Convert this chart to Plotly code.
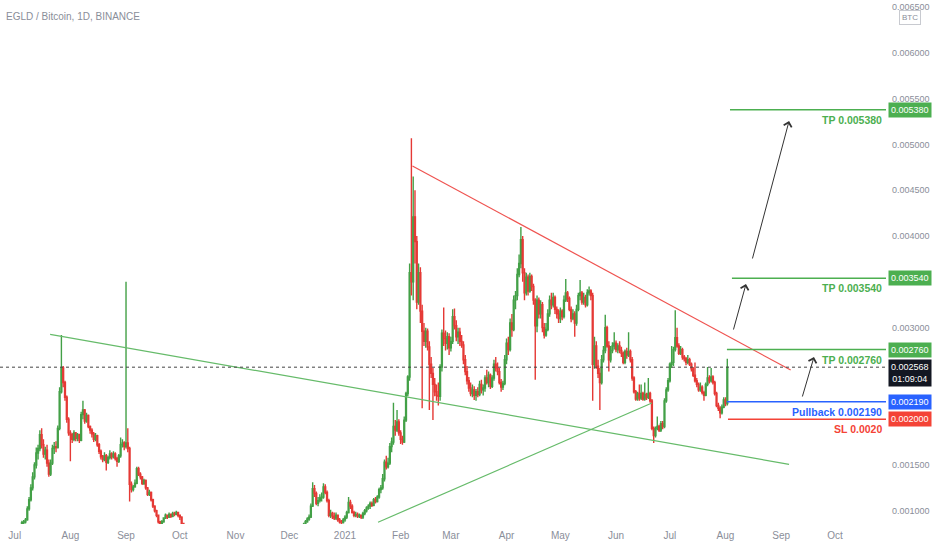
import pandas as pd
import plotly.graph_objects as go

# EGLD/BTC daily candles, values in 1e-6 BTC
# segment 1: 2020-07-05 .. 2020-10-03
start_1 = "2020-07-05"
open_1 = [860, 870, 880, 900, 1020, 1120, 1250, 1370, 1500, 1630, 1680, 1830, 1720, 1620, 1660, 1520, 1400, 1520, 1680, 1700, 1690, 1900, 2300, 2560, 2400, 2240, 2000,
          1850, 1830, 1780, 1850, 1790, 1830, 1770, 2050, 2100, 1980, 2040, 1920, 1880, 1840, 1780, 1820, 1720, 1650, 1590, 1560, 1600, 1530, 1580, 1620, 1590, 1620, 1570, 1540, 1600, 1720, 1740,
          1700, 1740, 1680, 1290, 1230, 1260, 1300, 1460, 1400, 1370, 1300, 1330, 1250, 1180, 1200, 1120, 1050, 1000, 950, 880, 850, 880, 920, 950, 930, 960, 940, 970, 960, 980,
          950, 930, 860]
high_1 = [890, 900, 920, 1050, 1150, 1290, 1420, 1530, 1690, 1720, 1880, 1900, 1780, 1700, 1720, 1560, 1560, 1720, 1750, 1760, 1930, 2350, 2920, 2580, 2420, 2260, 2020,
          1880, 1850, 1880, 1860, 1850, 1840, 2080, 2200, 2110, 2070, 2050, 1930, 1900, 1860, 1850, 1830, 1740, 1670, 1610, 1640, 1620, 1600, 1660, 1640, 1650, 1640, 1590, 1620, 1800, 1780, 1760,
          3500, 1900, 1700, 1320, 1280, 1340, 1480, 1480, 1420, 1380, 1350, 1340, 1260, 1230, 1210, 1130, 1060, 1010, 960, 890, 900, 930, 970, 960, 980, 970, 990, 990, 1000, 990,
          960, 940, 870]
low_1 = [840, 850, 860, 890, 1000, 1100, 1220, 1340, 1460, 1560, 1650, 1680, 1580, 1560, 1480, 1370, 1380, 1500, 1620, 1640, 1680, 1880, 2280, 2350, 2200, 1960, 1820,
         1540, 1740, 1760, 1760, 1760, 1740, 1760, 2000, 1950, 1960, 1900, 1840, 1800, 1750, 1760, 1700, 1620, 1560, 1530, 1540, 1440, 1510, 1560, 1560, 1570, 1550, 1480, 1520, 1580, 1690, 1660,
         1680, 1640, 1100, 1200, 1210, 1250, 1290, 1380, 1340, 1280, 1280, 1230, 1160, 1160, 1100, 1030, 980, 930, 860, 830, 840, 870, 910, 910, 920, 920, 930, 940, 950, 930,
         900, 840, 800]
close_1 = [870, 880, 900, 1020, 1120, 1250, 1370, 1500, 1630, 1680, 1830, 1720, 1620, 1660, 1520, 1400, 1520, 1680, 1700, 1690, 1900, 2300, 2560, 2400, 2240, 2000, 1850,
           1830, 1780, 1850, 1790, 1830, 1770, 2050, 2100, 1980, 2040, 1920, 1880, 1840, 1780, 1820, 1720, 1650, 1590, 1560, 1600, 1530, 1580, 1620, 1590, 1620, 1570, 1540, 1600, 1720, 1740, 1700,
           1740, 1680, 1290, 1230, 1260, 1300, 1460, 1400, 1370, 1300, 1330, 1250, 1180, 1200, 1120, 1050, 1000, 950, 880, 850, 880, 920, 950, 930, 960, 940, 970, 960, 980, 950,
           930, 860, 830]

# segment 2: 2020-12-09 .. 2021-08-02
start_2 = "2020-12-09"
open_2 = [840, 850, 880, 910, 930, 1050, 1240, 1190, 1080, 1110, 1140, 1150, 1260, 1200, 1110, 950, 970, 940, 920, 950, 900, 880, 870,
          900, 930, 980, 1090, 1050, 980, 950, 960, 940, 950, 930, 970, 1000, 1030, 1050, 1080, 1060, 1120, 1100, 1150, 1230, 1250, 1350, 1530, 1480, 1520, 1700, 1750, 1920, 1880, 1970,
          1850, 1780, 1750, 1990, 2280, 2460, 3600, 3500, 4210, 3940, 3280, 3600, 3180, 2960, 2850, 2960, 2790, 2600, 2500, 2380, 2300, 2260, 2250, 2570, 2940, 2880, 2830, 2900,
          2780, 2850, 3120, 3020, 2900, 2950, 2850, 2810, 2650, 2520, 2420, 2340, 2280, 2320, 2260, 2300, 2270, 2380, 2320, 2340, 2450, 2400, 2480, 2360, 2450, 2600, 2560, 2520, 2400, 2350, 2390,
          2650, 2830, 2760, 3050, 2980, 3300, 3350, 3580, 3700, 3960, 3600, 3380, 3550, 3400, 3560, 3450, 3300, 3020, 3300, 3150, 3250, 3000, 2920, 2980, 3150, 3300, 3250, 3330, 3200, 3150,
          3100, 3180, 3120, 3300, 3380, 3320, 3200, 3100, 3150, 3050, 3200, 3350, 3380, 3280, 3330, 3250, 3380, 3400, 3350, 2600, 2800, 2580, 2500, 2400, 2650, 2750, 3000, 2800, 2650, 2750, 2800,
          2830, 2760, 2800, 2750, 2720, 2620, 2740, 2700, 2740, 2650, 2450, 2300, 2220, 2280, 2230, 2280, 2220, 2270, 2240, 2280, 2200, 1900, 1820, 1900, 1920, 1880, 1950, 1920, 2200, 2320,
          2420, 2600, 2620, 2760, 2890, 2800, 2720, 2760, 2680, 2660, 2620, 2650, 2600, 2550, 2480, 2420, 2380, 2320, 2350, 2290, 2260, 2380, 2450, 2420, 2460, 2400, 2280, 2150, 2120, 2070, 2130,
          2210, 2170]
high_2 = [870, 900, 930, 960, 1080, 1310, 1280, 1210, 1150, 1180, 1200, 1300, 1290, 1220, 1130, 1010, 990, 980, 980, 960, 920, 900, 920,
          950, 1000, 1150, 1120, 1070, 1000, 990, 980, 970, 960, 990, 1020, 1050, 1070, 1100, 1100, 1140, 1150, 1170, 1250, 1280, 1400, 1560, 1600, 1580, 1740, 1800, 2180, 1990, 2100, 2000,
          1880, 1820, 2030, 2300, 2480, 3700, 5070, 4650, 4500, 4000, 3700, 3660, 3250, 3050, 3000, 2990, 2850, 2680, 2560, 2450, 2380, 2400, 2600, 2980, 3220, 2970, 2950, 2940,
          2900, 3200, 3210, 3080, 3000, 3000, 2920, 2850, 2700, 2580, 2460, 2400, 2380, 2360, 2330, 2350, 2420, 2430, 2380, 2480, 2540, 2520, 2500, 2480, 2650, 2680, 2620, 2560, 2440, 2420, 2700,
          2880, 2900, 3100, 3150, 3350, 3400, 3650, 3800, 4100, 4000, 3650, 3600, 3580, 3600, 3580, 3480, 3320, 3350, 3330, 3300, 3280, 3050, 3050, 3200, 3350, 3380, 3380, 3350, 3230, 3200,
          3220, 3200, 3350, 3530, 3400, 3340, 3230, 3200, 3180, 3250, 3380, 3520, 3400, 3380, 3360, 3420, 3450, 3420, 3380, 2900, 2850, 2650, 2560, 2700, 2800, 3140, 3020, 2850, 2800, 2840, 2950,
          2860, 2830, 2850, 2790, 2740, 2760, 2780, 2950, 2760, 2680, 2470, 2320, 2300, 2380, 2380, 2300, 2400, 2290, 2450, 2300, 2220, 1920, 1920, 2030, 1940, 1980, 1980, 2230, 2350, 2450,
          2620, 2800, 2790, 3190, 3000, 2830, 2800, 2780, 2700, 2680, 2700, 2670, 2620, 2570, 2620, 2450, 2400, 2400, 2370, 2310, 2400, 2570, 2480, 2560, 2480, 2420, 2300, 2180, 2140, 2160, 2240,
          2240, 2660]
low_2 = [820, 840, 870, 890, 920, 1040, 1150, 1060, 1050, 1090, 1100, 1130, 1180, 1090, 930, 920, 910, 900, 900, 880, 860, 850, 860,
         880, 910, 970, 1020, 970, 930, 930, 920, 920, 910, 910, 950, 980, 1010, 1020, 1040, 1050, 1080, 1090, 1130, 1190, 1230, 1320, 1450, 1460, 1500, 1640, 1720, 1820, 1860, 1820,
         1730, 1720, 1740, 1970, 2250, 2420, 3350, 3300, 3700, 3200, 3250, 3050, 2120, 2800, 2780, 2750, 2100, 2450, 1990, 2250, 2200, 2150, 2200, 2520, 2800, 2750, 2760, 2700,
         2740, 2820, 2980, 2850, 2820, 2800, 2780, 2600, 2480, 2380, 2300, 2250, 2240, 2210, 2200, 2240, 2250, 2280, 2260, 2300, 2380, 2350, 2330, 2340, 2420, 2520, 2480, 2380, 2300, 2320, 2370,
         2600, 2700, 2740, 2900, 2960, 3200, 3300, 3550, 3650, 3500, 3300, 3350, 3350, 3380, 3400, 3250, 2430, 2950, 3100, 3100, 2950, 2880, 2900, 2960, 3120, 3200, 3220, 3150, 3100, 3050,
         3050, 3080, 3100, 3280, 3280, 3180, 3060, 3080, 2900, 3020, 3180, 3300, 3250, 3250, 3220, 3230, 3350, 3300, 2200, 2550, 2550, 2450, 2100, 2380, 2620, 2720, 2780, 2520, 2620, 2720, 2760,
         2730, 2720, 2720, 2680, 2600, 2600, 2660, 2680, 2620, 2420, 2280, 2200, 2200, 2200, 2210, 2200, 2200, 2210, 2220, 2180, 1880, 1740, 1800, 1880, 1860, 1860, 1890, 1900, 2180, 2300,
         2400, 2560, 2580, 2740, 2780, 2700, 2700, 2650, 2630, 2590, 2600, 2580, 2520, 2460, 2400, 2350, 2300, 2300, 2270, 2200, 2250, 2360, 2390, 2400, 2380, 2260, 2130, 2090, 2010, 2050, 2120,
         2140, 2150]
close_2 = [850, 880, 910, 930, 1050, 1240, 1190, 1080, 1110, 1140, 1150, 1260, 1200, 1110, 950, 970, 940, 920, 950, 900, 880, 870, 900,
           930, 980, 1090, 1050, 980, 950, 960, 940, 950, 930, 970, 1000, 1030, 1050, 1080, 1060, 1120, 1100, 1150, 1230, 1250, 1350, 1530, 1480, 1520, 1700, 1750, 1920, 1880, 1970, 1850,
           1780, 1750, 1990, 2280, 2460, 3600, 3500, 4210, 3940, 3280, 3600, 3180, 2960, 2850, 2960, 2790, 2600, 2500, 2380, 2300, 2260, 2250, 2570, 2940, 2880, 2830, 2900, 2780,
           2850, 3120, 3020, 2900, 2950, 2850, 2810, 2650, 2520, 2420, 2340, 2280, 2320, 2260, 2300, 2270, 2380, 2320, 2340, 2450, 2400, 2480, 2360, 2450, 2600, 2560, 2520, 2400, 2350, 2390, 2650,
           2830, 2760, 3050, 2980, 3300, 3350, 3580, 3700, 3960, 3600, 3380, 3550, 3400, 3560, 3450, 3300, 3020, 3300, 3150, 3250, 3000, 2920, 2980, 3150, 3300, 3250, 3330, 3200, 3150, 3100,
           3180, 3120, 3300, 3380, 3320, 3200, 3100, 3150, 3050, 3200, 3350, 3380, 3280, 3330, 3250, 3380, 3400, 3350, 2600, 2800, 2580, 2500, 2400, 2650, 2750, 3000, 2800, 2650, 2750, 2800, 2830,
           2760, 2800, 2750, 2720, 2620, 2740, 2700, 2740, 2650, 2450, 2300, 2220, 2280, 2230, 2280, 2220, 2270, 2240, 2280, 2200, 1900, 1820, 1900, 1920, 1880, 1950, 1920, 2200, 2320, 2420,
           2600, 2620, 2760, 2890, 2800, 2720, 2760, 2680, 2660, 2620, 2650, 2600, 2550, 2480, 2420, 2380, 2320, 2350, 2290, 2260, 2380, 2450, 2420, 2460, 2400, 2280, 2150, 2120, 2070, 2130, 2210,
           2170, 2568]

last_price = 0.002568
countdown = "01:09:04"

# drawings: trend lines (date, price)
red_line = [("2021-02-07 14:00", 0.004766), ("2021-09-06 07:00", 0.002537)]
green_line_top = [("2020-07-20 17:00", 0.002927), ("2021-09-05 10:00", 0.001507)]
green_line_low = [("2021-01-19 10:00", 0.000874), ("2021-06-21 00:00", 0.002177)]

# horizontal levels
level_prices = [0.005380, 0.003540, 0.002760, 0.002190, 0.002000]
level_starts = ["2021-08-03 12:00", "2021-08-04 14:00", "2021-08-01 19:00", "2021-08-01 19:00", "2021-08-02 09:00"]
level_texts = ["TP 0.005380", "TP 0.003540", "TP 0.002760", "Pullback 0.002190", "SL 0.0020"]
level_tags = ["0.005380", "0.003540", "0.002760", "0.002190", "0.002000"]
level_colors = ["#4caf50", "#4caf50", "#4caf50", "#2962ff", "#f44336"]

# arrows: (tail, head)
arrows = [
    (("2021-09-12 14:00", 0.002231), ("2021-09-19 07:00", 0.002679)),
    (("2021-08-05 05:00", 0.002963), ("2021-08-12 10:00", 0.003476)),
    (("2021-08-15 19:00", 0.003739), ("2021-09-05 10:00", 0.005257)),
]

month_ticks = ["2020-07-01", "2020-08-01", "2020-09-01", "2020-10-01", "2020-11-01", "2020-12-01", "2021-01-01",
               "2021-02-01", "2021-03-01", "2021-04-01", "2021-05-01", "2021-06-01", "2021-07-01", "2021-08-01",
               "2021-09-01", "2021-10-01"]
month_labels = ["Jul", "Aug", "Sep", "Oct", "Nov", "Dec", "2021", "Feb", "Mar", "Apr", "May", "Jun", "Jul", "Aug", "Sep", "Oct"]
# 0.0020, 0.0025 and 0.0035 sit under the price tags, so they are not labelled
price_ticks = [0.0010, 0.0015, 0.0030, 0.0040, 0.0045, 0.0050, 0.0055, 0.0060, 0.0065]

FONT = "Liberation Sans, Arial, sans-serif"
GREEN = "#43a047"
RED = "#e53935"
GREY = "#8a8e99"

dates = list(pd.date_range(start_1, periods=len(close_1), freq="D")) + \
        list(pd.date_range(start_2, periods=len(close_2), freq="D"))
scale = 1e-6
opens = [v * scale for v in open_1 + open_2]
highs = [v * scale for v in high_1 + high_2]
lows = [v * scale for v in low_1 + low_2]
closes = [v * scale for v in close_1 + close_2]

fig = go.Figure()
fig.add_trace(go.Candlestick(
    x=dates, open=opens, high=highs, low=lows, close=closes,
    increasing=dict(line=dict(color=GREEN, width=1.4), fillcolor=GREEN),
    decreasing=dict(line=dict(color=RED, width=1.4), fillcolor=RED),
    whiskerwidth=0, showlegend=False, hoverinfo="skip",
))

shapes = []
for pts, col in [(red_line, "#ef5350"), (green_line_top, "#66bb6a"), (green_line_low, "#66bb6a")]:
    shapes.append(dict(type="line", xref="x", yref="y", x0=pts[0][0], y0=pts[0][1],
                       x1=pts[1][0], y1=pts[1][1], line=dict(color=col, width=1.2)))

x_end = "2021-10-29 10:00"
for p, s, c in zip(level_prices, level_starts, level_colors):
    shapes.append(dict(type="line", xref="x", yref="y", x0=s, x1=x_end, y0=p, y1=p,
                       line=dict(color=c, width=1.5)))

# last price dotted line
shapes.append(dict(type="line", xref="paper", yref="y", x0=0, x1=1, y0=last_price, y1=last_price,
                   line=dict(color="#444444", width=1, dash="dot")))

annotations = []
for p, t, tag, c in zip(level_prices, level_texts, level_tags, level_colors):
    annotations.append(dict(xref="paper", yref="y", x=0.998, y=p, xanchor="right", yanchor="top",
                            yshift=-2, text="<b>" + t + "</b>", showarrow=False,
                            font=dict(family=FONT, size=10.5, color=c)))
    annotations.append(dict(xref="paper", yref="y", x=1, y=p, xanchor="left", yanchor="middle",
                            xshift=2, text=tag, showarrow=False, bgcolor=c, borderpad=2,
                            font=dict(family=FONT, size=9, color="white")))

annotations.append(dict(xref="paper", yref="y", x=1, y=last_price, xanchor="left", yanchor="top",
                        xshift=2, yshift=8, text=f"{last_price:.6f}<br>{countdown}", showarrow=False,
                        bgcolor="#131722", borderpad=2, font=dict(family=FONT, size=9, color="white")))

for (tx, ty), (hx, hy) in arrows:
    annotations.append(dict(xref="x", yref="y", axref="x", ayref="y", x=hx, y=hy, ax=tx, ay=ty,
                            text="", showarrow=True, arrowhead=4, arrowsize=1.6, arrowwidth=1,
                            arrowcolor="#333333", standoff=0, startstandoff=0))

annotations.append(dict(xref="paper", yref="paper", x=0.004, y=0.968, xanchor="left", yanchor="middle",
                        text="EGLD / Bitcoin, 1D, BINANCE", showarrow=False,
                        font=dict(family=FONT, size=10, color=GREY)))
annotations.append(dict(xref="paper", yref="paper", x=1.027, y=0.967, xanchor="center", yanchor="middle",
                        text="BTC", showarrow=False, bgcolor="white", bordercolor="#c8cad0",
                        borderwidth=1, borderpad=2, font=dict(family=FONT, size=8, color=GREY)))

fig.update_layout(
    width=932, height=550,
    margin=dict(l=0, r=46, t=0, b=26),
    paper_bgcolor="white", plot_bgcolor="white",
    showlegend=False, hovermode=False,
    shapes=shapes, annotations=annotations,
    xaxis=dict(type="date", range=["2020-06-22 19:00", x_end], rangeslider=dict(visible=False),
               showgrid=False, zeroline=False, showline=False, ticks="",
               tickvals=month_ticks, ticktext=month_labels, ticklabelstandoff=4,
               tickfont=dict(family=FONT, size=10, color=GREY)),
    yaxis=dict(side="right", range=[0.000855, 0.006579], showgrid=False, zeroline=False,
               showline=False, ticks="", tickvals=price_ticks, tickformat=".6f",
               ticklabelstandoff=5,
               tickfont=dict(family=FONT, size=9, color=GREY)),
)

# page body has a default 8px margin; remove it so the chart fills the window
fig.write_html("out.html", config={"displayModeBar": False},
               post_script="document.body.style.margin='0';")
